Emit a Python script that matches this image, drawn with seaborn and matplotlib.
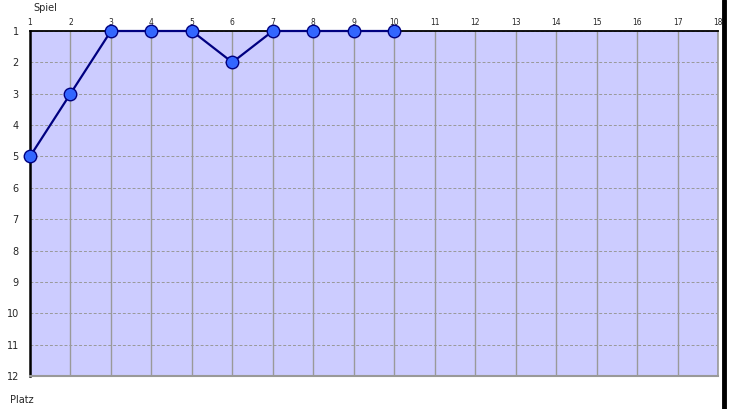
import matplotlib
matplotlib.use("Agg")
import matplotlib.pyplot as plt
import seaborn as sns
import pandas as pd

games = [1, 2, 3, 4, 5, 6, 7, 8, 9, 10]
places = [5, 3, 1, 1, 1, 2, 1, 1, 1, 1]
x_ticks = list(range(1, 19))
y_ticks = list(range(1, 13))

sns.set_style("white")
plt.rcParams['font.family'] = ['DejaVu Sans']

fig = plt.figure(figsize=(7.33, 4.09), dpi=100)
ax = fig.add_axes([30 / 733, 1 - 376 / 409, (718 - 30) / 733, (376 - 31) / 409])
ax.set_facecolor("#CCCCFF")

df = pd.DataFrame({"Spiel": games, "Platz": places})
sns.lineplot(data=df, x="Spiel", y="Platz", ax=ax, color="#000080", linewidth=1.6,
             marker="o", markersize=9, markerfacecolor="#3366FF",
             markeredgecolor="#000080", markeredgewidth=1.0, zorder=5, clip_on=False)

ax.set_xlim(1, 18)
ax.set_ylim(12, 1)
ax.set_xticks(x_ticks)
ax.set_yticks(y_ticks)
ax.xaxis.tick_top()
ax.tick_params(axis="x", labelsize=5.5, length=0, pad=3)
ax.tick_params(axis="y", labelsize=7, length=0, pad=8)
for xv in x_ticks:
    ax.axvline(xv, color="#999999", linewidth=1.0, zorder=1)
for yv in y_ticks:
    ax.axhline(yv, color="#999999", linewidth=0.7, linestyle=(0, (3, 2)), zorder=1)
ax.set_xlabel("")
ax.set_ylabel("")

ax.spines["left"].set_color("black")
ax.spines["left"].set_linewidth(1.8)
ax.spines["top"].set_color("black")
ax.spines["top"].set_linewidth(1.3)
ax.spines["bottom"].set_color("#999999")
ax.spines["bottom"].set_linewidth(1.5)
ax.spines["right"].set_color("#999999")
ax.spines["right"].set_linewidth(1.2)

fig.text(33 / 733, 1 - 8 / 409, "Spiel", fontsize=7, va="center", ha="left")
fig.text(10 / 733, 1 - 400 / 409, "Platz", fontsize=7, va="center", ha="left")
fig.add_artist(plt.Line2D([724 / 733, 724 / 733], [0, 1], color="black", linewidth=3.5))

fig.savefig("out.png", dpi=100)
